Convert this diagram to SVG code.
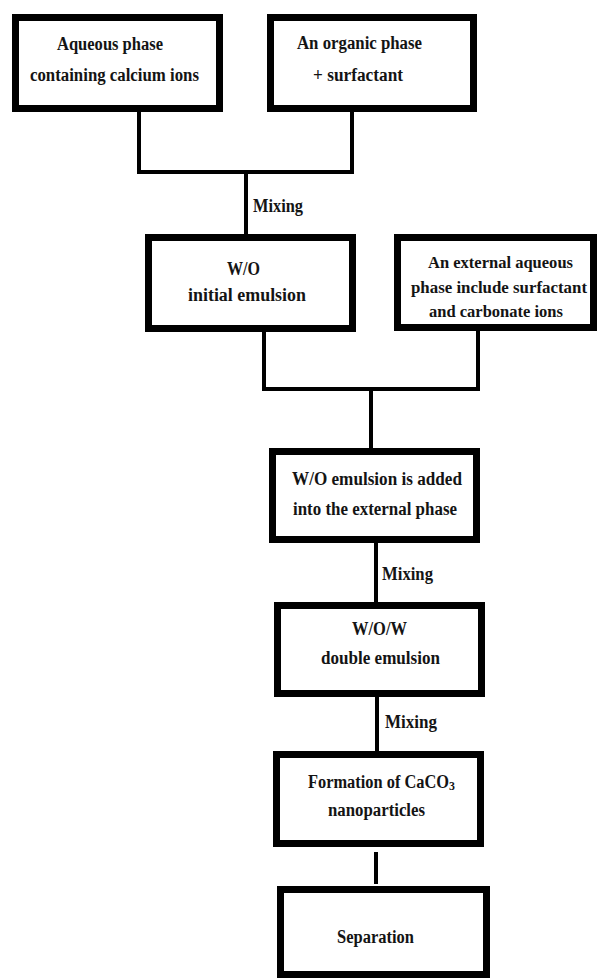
<svg xmlns="http://www.w3.org/2000/svg" width="597" height="978" viewBox="0 0 597 978">
<style>
.box{fill:#fff;stroke:#000;stroke-width:7}
.t{font-family:'Liberation Serif','Times New Roman',serif;font-weight:700;font-size:18px;fill:#141414}
.s{font-size:17px}
.c{fill:none;stroke:#000;stroke-width:4}
</style>
<rect width="597" height="978" fill="#fff"/>
<g id="connectors">
<polyline class="c" points="139,112 139,172 352,172 352,112"/>
<line class="c" x1="246" y1="172" x2="246" y2="234"/>
<polyline class="c" points="264,331 264,389 478,389 478,331"/>
<line class="c" x1="371" y1="389" x2="371" y2="448"/>
<line class="c" x1="376" y1="543" x2="376" y2="602"/>
<line class="c" x1="377" y1="697" x2="377" y2="751"/>
<line class="c" x1="376" y1="852" x2="376" y2="884"/>
<text class="t" x="253" y="212" textLength="50" lengthAdjust="spacingAndGlyphs">Mixing</text>
<text class="t" x="382" y="580" textLength="51" lengthAdjust="spacingAndGlyphs">Mixing</text>
<text class="t" x="385" y="728" textLength="52" lengthAdjust="spacingAndGlyphs">Mixing</text>
</g>
<g id="aqueous">
<rect class="box" x="15.5" y="17.5" width="204" height="91"/>
<text class="t" x="57" y="50" textLength="106" lengthAdjust="spacingAndGlyphs">Aqueous phase</text>
<text class="t" x="30" y="81" textLength="169" lengthAdjust="spacingAndGlyphs">containing calcium ions</text>
</g>
<g id="organic">
<rect class="box" x="270.5" y="17.5" width="203" height="91"/>
<text class="t" x="297" y="49" textLength="125" lengthAdjust="spacingAndGlyphs">An organic phase</text>
<text class="t" x="313" y="81" textLength="90" lengthAdjust="spacingAndGlyphs">+ surfactant</text>
</g>
<g id="wo">
<rect class="box" x="148.5" y="237.5" width="204" height="91"/>
<text class="t" x="227" y="275" textLength="33" lengthAdjust="spacingAndGlyphs">W/O</text>
<text class="t" x="188" y="301" textLength="118" lengthAdjust="spacingAndGlyphs">initial emulsion</text>
</g>
<g id="external">
<rect class="box" x="397.5" y="237.5" width="196" height="90"/>
<text class="t s" x="428" y="268" textLength="145" lengthAdjust="spacingAndGlyphs">An external aqueous</text>
<text class="t s" x="411" y="293" textLength="176" lengthAdjust="spacingAndGlyphs">phase include surfactant</text>
<text class="t s" x="429" y="317" textLength="134" lengthAdjust="spacingAndGlyphs">and carbonate ions</text>
</g>
<g id="added">
<rect class="box" x="272.5" y="451.5" width="204" height="88"/>
<text class="t" x="292" y="485" textLength="170" lengthAdjust="spacingAndGlyphs">W/O emulsion is added</text>
<text class="t" x="293" y="515" textLength="164" lengthAdjust="spacingAndGlyphs">into the external phase</text>
</g>
<g id="wow">
<rect class="box" x="277.5" y="605.5" width="204" height="88"/>
<text class="t" x="352" y="635" textLength="55" lengthAdjust="spacingAndGlyphs">W/O/W</text>
<text class="t" x="321" y="664" textLength="119" lengthAdjust="spacingAndGlyphs">double emulsion</text>
</g>
<g id="formation">
<rect class="box" x="276.5" y="754.5" width="204" height="89"/>
<text class="t" x="308" y="788" textLength="147" lengthAdjust="spacingAndGlyphs">Formation of CaCO<tspan font-size="13" dy="2">3</tspan></text>
<text class="t" x="328" y="816" textLength="97" lengthAdjust="spacingAndGlyphs">nanoparticles</text>
</g>
<g id="separation">
<rect class="box" x="280.5" y="889.5" width="206" height="85"/>
<text class="t" x="337" y="943" textLength="77" lengthAdjust="spacingAndGlyphs">Separation</text>
</g>
</svg>
